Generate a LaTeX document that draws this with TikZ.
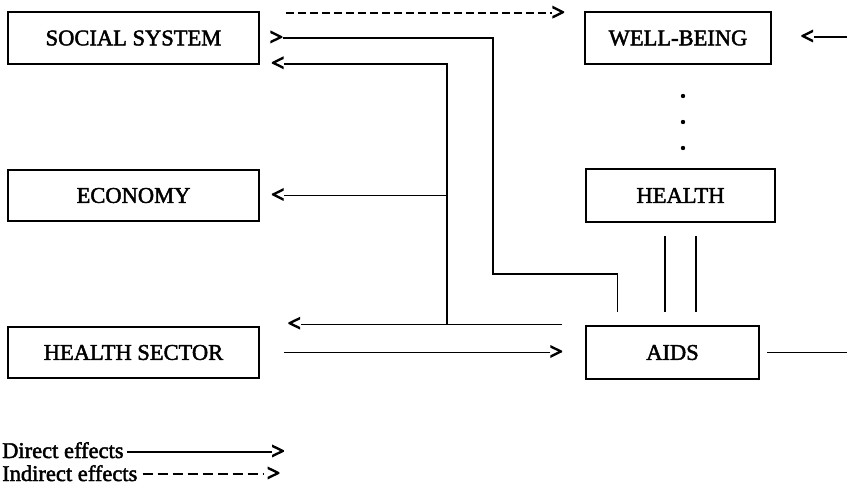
\documentclass[tikz,border=0pt]{standalone}
\usepackage{fontspec}
\setmainfont{Liberation Serif}[FakeBold=2]
\newfontfamily\headfont{Liberation Serif}[FakeBold=6]
\usetikzlibrary{calc}
\begin{document}
\begin{tikzpicture}[x=1pt,y=-1pt,
  txt/.style={font=\fontsize{22.5}{27}\selectfont},
  box/.style={draw,line width=1.6pt,inner sep=0pt,txt},
  head/.style={font=\headfont\fontsize{22.5}{27}\selectfont,inner sep=0pt,outer sep=0pt},
  conn/.style={line width=1.4pt},
  dashline/.style={line width=2pt,dash pattern=on 8pt off 4pt},
  dot/.style={fill=black}]
\useasboundingbox (0,0) rectangle (847,493);
% boxes
\node[box,minimum width=251pt,minimum height=52pt] (ss) at (133.5,38) {SOCIAL SYSTEM};
\node[box,minimum width=186pt,minimum height=52pt] (wb) at (678,38) {WELL-BEING};
\node[box,minimum width=251pt,minimum height=51pt] (eco) at (133.5,195.5) {ECONOMY};
\node[box,minimum width=189pt,minimum height=53pt] (hl) at (680.5,195.5) {HEALTH};
\node[box,minimum width=251pt,minimum height=51pt] (hs) at (133.5,352.5) {HEALTH SECTOR};
\node[box,minimum width=173pt,minimum height=53pt] (aids) at (672.5,352.5) {AIDS};
% arrowheads (typed glyphs)
\node[head] (h1) at ($(wb.north west)+(-26,2)$) {>};
\node[head] (h2) at ($(ss.east)+(16.5,0)$) {>};
\node[head] (h3) at ($(ss.south east)+(18,-1)$) {<};
\node[head] (h4) at ($(eco.east)+(18,0)$) {<};
\node[head] (h5) at ($(hs.north east)+(34.5,-2)$) {<};
\node[head] (h6) at ($(aids.west)+(-29,0)$) {>};
\node[head] (h7) at ($(wb.east)+(35.5,-1)$) {<};
% dashed indirect arrow
\coordinate (d1s) at ($(ss.north east)+(26,2)$);
\draw[dashline] (d1s) -- (h1.west);
% AIDS -> social system
\coordinate (p2e) at ($(aids.north west)+(32,-13)$);
\draw[conn] (h2.east) -| (493,274) -| (p2e);
% AIDS -> health sector / economy / social system
\coordinate (p3s) at ($(aids.north west)+(-23,-1)$);
\draw[conn] (p3s) -- (h5.east);
\coordinate (jn) at (447,325);
\draw[conn] (jn) |- (h3.east);
\coordinate (jeco) at (447,195.5);
\draw[conn] (jeco) -- (h4.east);
% health sector -> AIDS
\coordinate (p4s) at ($(hs.east)+(24,0)$);
\draw[conn] (p4s) -- (h6.west);
% AIDS right line
\coordinate (p5s) at ($(aids.east)+(7,0)$);
\coordinate (p5e) at (847,352.5);
\draw[conn] (p5s) -- (p5e);
% into well-being from right
\coordinate (p6s) at (847,37);
\draw[conn] (p6s) -- (h7.east);
% health - aids lines
\draw[conn] ($(hl.south)+(-15.5,13)$) -- ($(aids.north)+(-7.5,-13)$);
\draw[conn] ($(hl.south)+(15.5,13)$) -- ($(aids.north)+(23.5,-13)$);
% dots
\fill[dot] (683,96) circle (2.2);
\fill[dot] (683,122) circle (2.2);
\fill[dot] (683,148) circle (2.2);
% legend
\node[txt,anchor=base west,inner sep=0pt] (ld) at (2,458) {Direct effects};
\node[txt,anchor=base west,inner sep=0pt] (li) at (2,481) {Indirect effects};
\node[head] (h8) at (278,452) {>};
\node[head] (h9) at (273.5,474) {>};
\coordinate (l1s) at ($(ld.base east)+(3,-6)$);
\draw[conn] (l1s) -- (h8.west);
\coordinate (l2s) at ($(li.base east)+(5,-7)$);
\draw[dashline,dash pattern=on 10pt off 5pt] (l2s) -- ($(h9.west)+(-3,0)$);
\end{tikzpicture}
\end{document}
